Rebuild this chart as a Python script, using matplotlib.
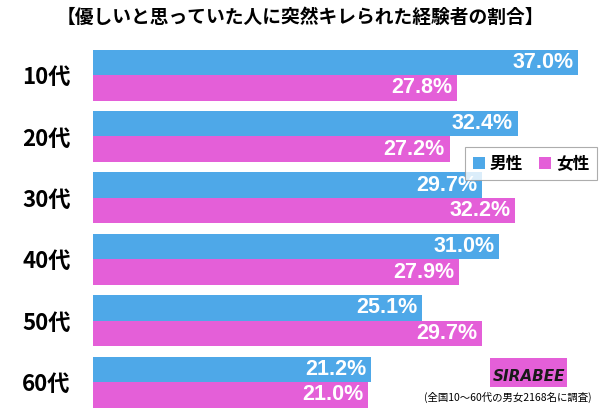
import matplotlib
matplotlib.use("Agg")
import matplotlib.pyplot as plt
from matplotlib.patches import Rectangle
import numpy as np

plt.rcParams['font.family'] = ['Noto Sans CJK JP', 'DejaVu Sans']

categories = ["10代", "20代", "30代", "40代", "50代", "60代"]
male = [37.0, 32.4, 29.7, 31.0, 25.1, 21.2]
female = [27.8, 27.2, 32.2, 27.9, 29.7, 21.0]
series_names = ["男性", "女性"]
title = "【優しいと思っていた人に突然キレられた経験者の割合】"
note = "(全国10〜60代の男女2168名に調査)"

blue = "#4EA8E8"
pink = "#E45FD8"

fig = plt.figure(figsize=(6.0, 4.11), dpi=100)
W, H = 600, 411
# axes: x from 93 to 578 px, y from 45 to 411 px
ax = fig.add_axes([93 / W, 1 - 411 / H, (578 - 93) / W, (411 - 45) / H])
ax.set_xlim(0, 37.0)
n = len(categories)
y = np.arange(n)
bh = 0.415
ax.barh(y - bh / 2, male, height=bh, color=blue, label=series_names[0])
ax.barh(y + bh / 2, female, height=bh, color=pink, label=series_names[1])
ax.set_ylim(5.47, -0.489)

for i in range(n):
    ax.text(male[i] - 0.35, y[i] - bh / 2, f"{male[i]:.1f}%", ha="right", va="center",
            color="white", fontsize=15.5, fontweight="bold", family=["Liberation Sans"])
    ax.text(female[i] - 0.35, y[i] + bh / 2, f"{female[i]:.1f}%", ha="right", va="center",
            color="white", fontsize=15.5, fontweight="bold", family=["Liberation Sans"])

ax.set_yticks(y)
ax.set_yticklabels(categories, fontsize=16, fontweight="bold")
ax.tick_params(axis="y", length=0, pad=16)
ax.set_xticks([])
for s in ax.spines.values():
    s.set_visible(False)

leg = ax.legend(loc="upper left", bbox_to_anchor=((457 - 93) / (578 - 93), 1 - (139 - 45) / (411 - 45)),
                ncol=2, frameon=True, fancybox=False, handlelength=0.7,
                handleheight=0.7, handletextpad=0.3, columnspacing=1.0, borderpad=0.45,
                prop={"weight": "bold", "size": 12})
leg.get_frame().set_edgecolor("#999999")
leg.get_frame().set_linewidth(0.8)

fig.text(300 / W, 1 - 17 / H, title, ha="center", va="center", fontsize=13.5, fontweight="bold")
fig.text(592 / W, 1 - 397 / H, note, ha="right", va="center", fontsize=7.5)

# logo box
fig.patches.append(Rectangle((490 / W, 1 - 387 / H), 77 / W, 29 / H, transform=fig.transFigure,
                             facecolor="#E45FD8", edgecolor="none"))
fig.text(529 / W, 1 - 376 / H, "SIRABEE", ha="center", va="center", fontsize=11,
         fontweight="bold", color="#1a1a1a", family=["DejaVu Sans"], style="italic")

fig.savefig("out.png", dpi=100)
